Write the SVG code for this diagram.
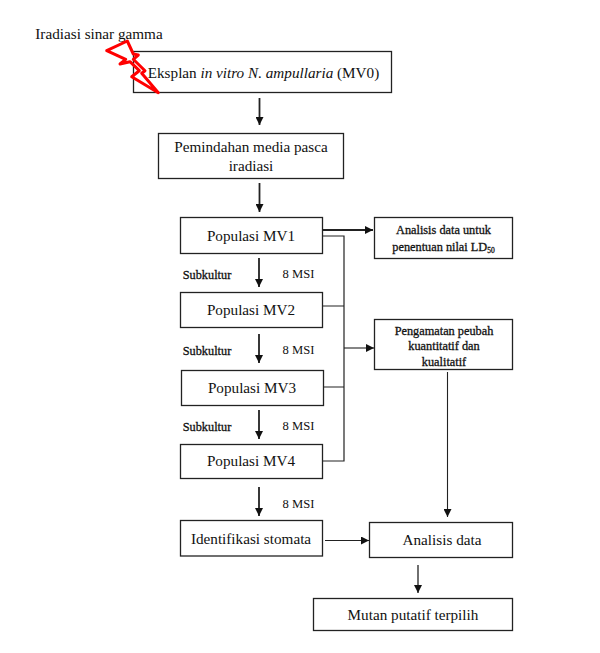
<svg xmlns="http://www.w3.org/2000/svg" width="600" height="653" viewBox="0 0 600 653">
<style>
text{font-family:"Liberation Serif","Times New Roman",serif;fill:#111;text-anchor:middle}
.n{font-size:15.2px}.s{font-size:12.300px;stroke:#111;stroke-width:.3}.m{font-size:12.6px}
.b{fill:#fff;stroke:#222;stroke-width:1.3}
.c{fill:none;stroke:#222;stroke-width:1.2}
.a{marker-end:url(#h);stroke-width:1.8}
</style>
<defs><marker id="h" markerUnits="userSpaceOnUse" markerWidth="9" markerHeight="8" refX="8" refY="4" orient="auto"><path d="M0 0L8 4L0 8z" fill="#111"/></marker></defs>
<rect width="600" height="653" fill="#fff"/>
<g id="n0"><rect class="b" x="133.500" y="51.500" width="258" height="41"/><text class="n" x="263.500" y="78">Eksplan <tspan font-style="italic">in vitro N. ampullaria</tspan> (MV0)</text></g>
<g id="n1"><rect class="b" x="158.500" y="133.500" width="185" height="45"/><text class="n" x="251" y="152">Pemindahan media pasca</text><text class="n" x="251" y="171">iradiasi</text></g>
<g id="mv1"><rect class="b" x="180.500" y="217.500" width="142" height="36"/><text class="n" x="251" y="241">Populasi MV1</text></g>
<g id="mv2"><rect class="b" x="180.500" y="292.500" width="142" height="35"/><text class="n" x="251" y="315">Populasi MV2</text></g>
<g id="mv3"><rect class="b" x="181.500" y="370.500" width="142" height="35"/><text class="n" x="252" y="393">Populasi MV3</text></g>
<g id="mv4"><rect class="b" x="180.500" y="444.500" width="142" height="34"/><text class="n" x="251" y="466">Populasi MV4</text></g>
<g id="stomata"><rect class="b" x="180.500" y="520.500" width="142" height="35.500"/><text class="n" x="251" y="544">Identifikasi stomata</text></g>
<g id="ld50"><rect class="b" x="374.500" y="217.500" width="138" height="41"/><text class="s" x="443.500" y="234">Analisis data untuk</text><text class="s" x="443.500" y="251">penentuan nilai LD<tspan font-size="7.500" dy="2">50</tspan></text></g>
<g id="peubah"><rect class="b" x="374.500" y="319.500" width="138" height="50"/><text class="s" x="444" y="335">Pengamatan peubah</text><text class="s" x="444" y="350">kuantitatif dan</text><text class="s" x="444" y="366">kualitatif</text></g>
<g id="analisis"><rect class="b" x="369.500" y="522.500" width="143" height="35"/><text class="n" x="442" y="545">Analisis data</text></g>
<g id="mutan"><rect class="b" x="313.500" y="598.500" width="199" height="32"/><text class="n" x="413" y="620">Mutan putatif terpilih</text></g>
<g id="connectors">
<path class="c a" d="M259.500 98V125"/><path class="c a" d="M259.500 183V212"/>
<path class="c a" d="M259 258V287"/><path class="c a" d="M259 334V363"/><path class="c a" d="M259 410V439"/><path class="c a" d="M259 487V516"/>
<path class="c a" style="stroke-width:2" d="M323 230H373"/>
<path class="c" d="M323 236H344V461H323M323 306H344M324 387H344"/>
<path class="c a" style="stroke-width:1.1" d="M344 348H374"/>
<path class="c a" style="stroke-width:1.1" d="M447.500 372V517"/>
<path class="c a" style="stroke-width:1.1" d="M325 540.500H369"/>
<path class="c a" style="stroke-width:1.3" d="M418 565V593"/>
</g>
<g id="labels">
<text class="n" x="99" y="39">Iradiasi sinar gamma</text>
<text class="s" x="207" y="279">Subkultur</text><text class="s" x="207" y="355">Subkultur</text><text class="s" x="207" y="431">Subkultur</text>
<text class="m" x="298.500" y="278">8 MSI</text><text class="m" x="298.500" y="354">8 MSI</text><text class="m" x="298.500" y="430">8 MSI</text><text class="m" x="298.500" y="508">8 MSI</text>
</g>
<path id="petir" d="M106.700 50.700L127.300 41L133.300 54L138.300 55L133.300 59.300L145 70.700L141.700 73.300L158.300 92.700L131.700 76.700L139.300 70.700L130 61.700L120 64L125.700 59.300z" fill="none" stroke="#f00" stroke-width="3" stroke-linejoin="round"/>
</svg>
